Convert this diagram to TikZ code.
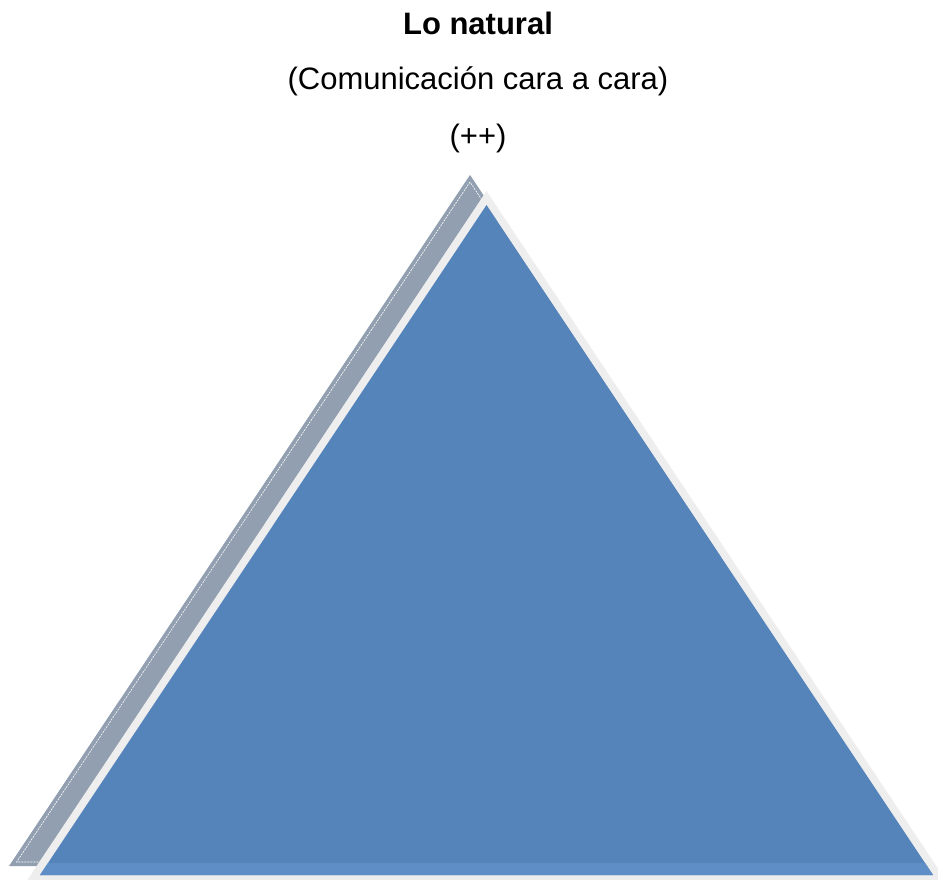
\documentclass[tikz,border=0pt]{standalone}
\usepackage{fontspec}
\setmainfont{Liberation Sans}
\usetikzlibrary{positioning}
\definecolor{pyrblue}{HTML}{5584BB}
\definecolor{pyrband}{HTML}{5F8EC6}
\definecolor{pyrshadow}{HTML}{919FB0}
\definecolor{pyredge}{HTML}{EEEEEE}

\begin{document}
\begin{tikzpicture}[x=1pt, y=-1pt,
  lbl/.style={anchor=base, inner sep=0pt, font=\fontsize{31}{37}\selectfont},
  inner/.style={draw=white, line width=0.6pt, dash pattern=on 2pt off 1pt}
]
\useasboundingbox (0,0) rectangle (938,880);

% back triangle
\fill[pyrshadow] (470,175) -- (9,866) -- (931,866) -- cycle;
\draw[inner] (470,182) -- (16.6,862) -- (923.4,862) -- cycle;

% front triangle with light rim
\fill[pyredge] (486.5,191) -- (24,885) -- (949,885) -- cycle;
\fill[pyrblue] (486.5,205) -- (40,875) -- (933,875) -- cycle;
\fill[pyrband] (48,863) -- (925,863) -- (933,875) -- (40,875) -- cycle;

\node[lbl, font=\fontsize{31}{37}\selectfont\bfseries] (title) at (478,35) {Lo natural};
\node[lbl] (subtitle) at (478,90) {(Comunicación cara a cara)};
\node[lbl] (level) at (478,147) {(++)};

\end{tikzpicture}
\end{document}
